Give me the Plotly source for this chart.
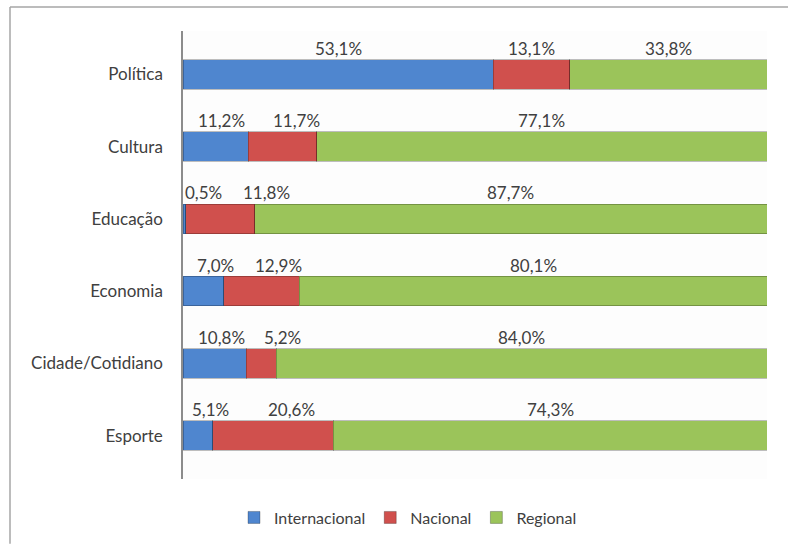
import plotly.graph_objects as go

# data
categories = ["Política", "Cultura", "Educação", "Economia", "Cidade/Cotidiano", "Esporte"]
internacional = [53.1, 11.2, 0.5, 7.0, 10.8, 5.1]
nacional = [13.1, 11.7, 11.8, 12.9, 5.2, 20.6]
regional = [33.8, 77.1, 87.7, 80.1, 84.0, 74.3]

series = [
    ("Internacional", internacional, "#4f86cf"),
    ("Nacional", nacional, "#d0504d"),
    ("Regional", regional, "#9bc45a"),
]

# small horizontal nudges (px) the original applied to crowded labels
label_shift = [
    [0, 6, 19, 12, 7, 13],
    [0, 14, 46, 17, 21, 19],
    [0, 0, 0, 0, 0, 0],
]

FONT = "Lato"
TXT = "#404040"

fig = go.Figure()
for name, vals, color in series:
    fig.add_trace(go.Bar(
        y=categories, x=vals, name=name, orientation="h",
        marker=dict(color=color, line=dict(color="rgba(0,0,0,0.25)", width=1)),
    ))

# value labels above each segment
annotations = []
left = [0.0] * len(categories)
for s, (name, vals, color) in enumerate(series):
    for i, v in enumerate(vals):
        mid = left[i] + v / 2
        annotations.append(dict(
            x=mid, y=categories[i], xref="x", yref="y",
            text=f"{v:.1f}%".replace(".", ","), showarrow=False,
            xshift=label_shift[s][i], yshift=26,
            font=dict(family=FONT, size=17, color=TXT),
        ))
        left[i] += v

# frame of the original chart box (only top and left edges are in view)
fx0, fy1 = (10 - 183) / 584, (481 - 7) / 450
frame = [
    dict(type="line", xref="paper", yref="paper", x0=fx0, x1=(788 - 183) / 584, y0=fy1, y1=fy1,
         line=dict(color="#a6a6a6", width=1.5), layer="below"),
    dict(type="line", xref="paper", yref="paper", x0=fx0, x1=fx0, y0=(481 - 546) / 450, y1=fy1,
         line=dict(color="#a6a6a6", width=1.5), layer="below"),
]

fig.update_layout(
    width=788, height=546,
    margin=dict(l=183, r=21, t=31, b=65),
    barmode="stack", bargap=0.59,
    paper_bgcolor="white", plot_bgcolor="#fdfdfd",
    font=dict(family=FONT, size=17, color=TXT),
    annotations=annotations,
    legend=dict(orientation="h", x=(408 - 183) / 584, xanchor="center", y=-0.086, yanchor="middle",
                font=dict(family=FONT, size=16, color=TXT), traceorder="normal",
                itemwidth=30, entrywidthmode="pixels"),
    shapes=frame,
)
fig.update_xaxes(range=[0, 100], visible=False, fixedrange=True)
fig.update_yaxes(range=[5.6, -0.6], showline=True, linecolor="#8c8c8c", linewidth=1.5,
                 showgrid=False, ticks="", ticklabelstandoff=15,
                 tickfont=dict(family=FONT, size=17, color=TXT))

fig.write_html("out.html", config={"displayModeBar": False},
               post_script="document.body.style.margin='0';document.body.style.overflow='hidden';")
